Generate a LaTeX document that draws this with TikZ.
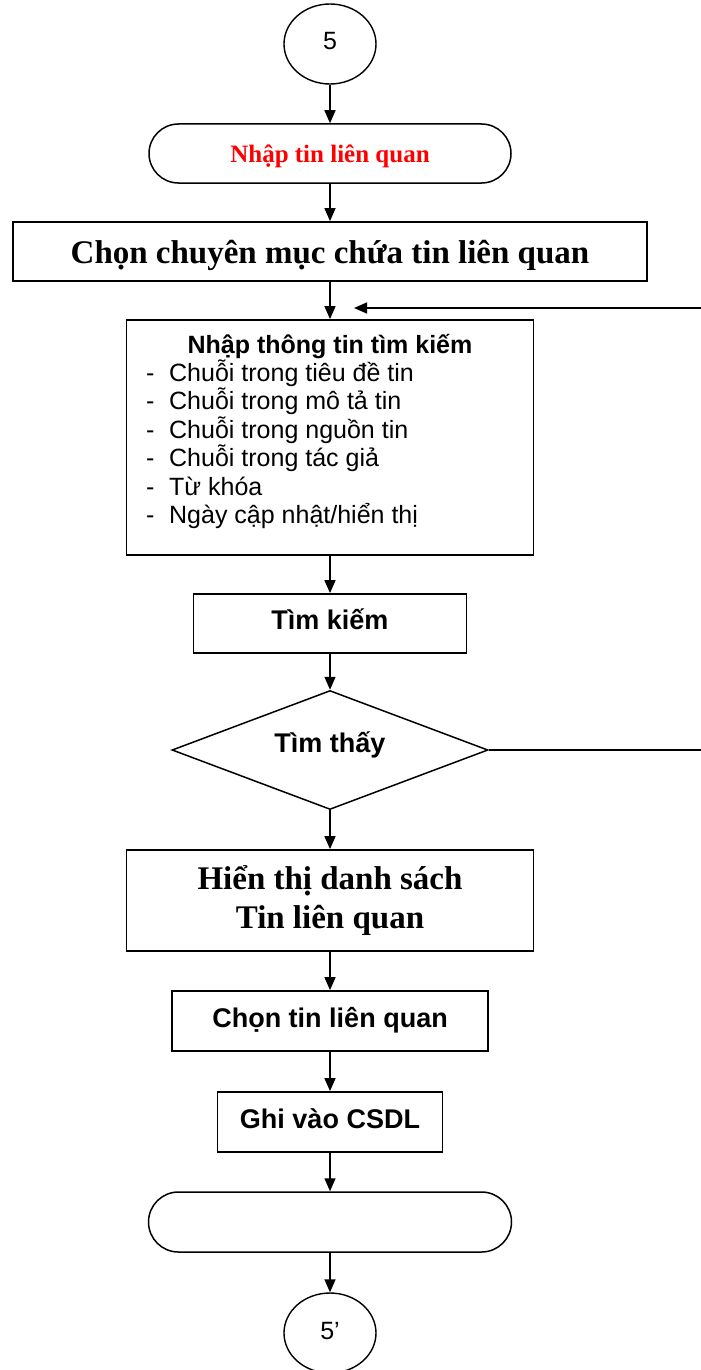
\documentclass[tikz,border=0pt]{standalone}
\usepackage{fontspec}
\setmainfont{Liberation Sans}
\newfontfamily\timesfont{Liberation Serif}
\usetikzlibrary{shapes.geometric,arrows.meta}

\tikzset{
  khung/.style={draw, line width=1.8pt, inner sep=0pt, minimum height=59pt},
  tron/.style={khung, line width=1.5pt, rounded corners=29.5pt},
  noi/.style={ellipse, draw, line width=1.4pt, inner sep=0pt,
    minimum width=92pt, minimum height=80pt,
    font=\fontsize{25}{30}\selectfont, text height=18pt, text depth=6pt},
  chuA/.style={font=\fontsize{27}{32}\selectfont\bfseries,
    text height=19.4pt, text depth=6.5pt},
  chuT/.style={font=\fontsize{33}{39}\timesfont\bfseries},
  muiten/.style={-{Triangle[length=13pt,width=11pt]}, line width=1.5pt}
}

\begin{document}
\begin{tikzpicture}[
  x=1pt,
  y=-1pt
]
\useasboundingbox (0,0) rectangle (701,1370);

%--------------------
% Điểm nối 5
%--------------------
\node[noi] (n5) at (330,44) {5};

%--------------------
% Các bước
%--------------------
\node[tron, minimum width=362pt, text=red,
  font=\fontsize{25}{30}\timesfont\bfseries,
  text height=18pt, text depth=0pt] (nhap) at (330,153.5) {Nhập tin liên quan};

\node[khung, chuT, minimum width=634pt, text height=23.8pt, text depth=0pt]
  (chonmuc) at (330,251.5) {Chọn chuyên mục chứa tin liên quan};

% khung nhập thông tin tìm kiếm
\node[khung, minimum width=407pt, minimum height=235pt] (nhaptt) at (330,437.5) {};
\node[anchor=base, font=\fontsize{25}{30}\selectfont\bfseries]
  (tieude) at (330,353) {Nhập thông tin tìm kiếm};
\foreach \muc [count=\i] in {Chuỗi trong tiêu đề tin, Chuỗi trong mô tả tin,
    Chuỗi trong nguồn tin, Chuỗi trong tác giả, Từ khóa, Ngày cập nhật/hiển thị} {
  \node[anchor=base west, inner sep=0pt, font=\fontsize{25}{30}\selectfont]
    (muc\i) at (146, {353+28.4*\i}) {\makebox[23pt][l]{-}\muc};
}

\node[khung, chuA, minimum width=273pt] (timkiem) at (330,623.5) {Tìm kiếm};

\node[diamond, draw, line width=1.5pt, aspect=2.66, inner sep=0pt,
  minimum width=316pt, minimum height=119pt,
  font=\fontsize{27}{32}\selectfont\bfseries,
  text height=19.4pt, text depth=13.5pt] (timthay) at (330,750) {Tìm thấy};

\node[khung, chuT, align=center, minimum width=407pt, minimum height=101pt]
  (hienthi) at (330,900.5) {Hiển thị danh sách\\Tin liên quan};

\node[khung, chuA, minimum width=316pt, minimum height=60pt] (chontin) at (330,1021) {Chọn tin liên quan};
\node[khung, chuA, minimum width=225pt, minimum height=60pt] (ghi) at (330,1122) {Ghi vào CSDL};

\node[tron, minimum width=363pt, minimum height=60pt, rounded corners=30pt] (ketthuc) at (330,1222) {};

%--------------------
% Điểm nối 5'
%--------------------
\node[noi] (n5p) at (330,1333) {5’};

%--------------------
% Mũi tên
%--------------------
\foreach \a/\b in {n5/nhap, nhap/chonmuc, chonmuc/nhaptt, nhaptt/timkiem,
    timkiem/timthay, timthay/hienthi, hienthi/chontin, chontin/ghi,
    ghi/ketthuc, ketthuc/n5p} {
  \draw[muiten] (\a) -- (\b);
}

% nhánh không tìm thấy quay lại
\coordinate (le) at (704,750);
\coordinate (quaylai) at (354,308);
\draw[muiten] (timthay.east) -- (le) |- (quaylai);

\end{tikzpicture}
\end{document}
